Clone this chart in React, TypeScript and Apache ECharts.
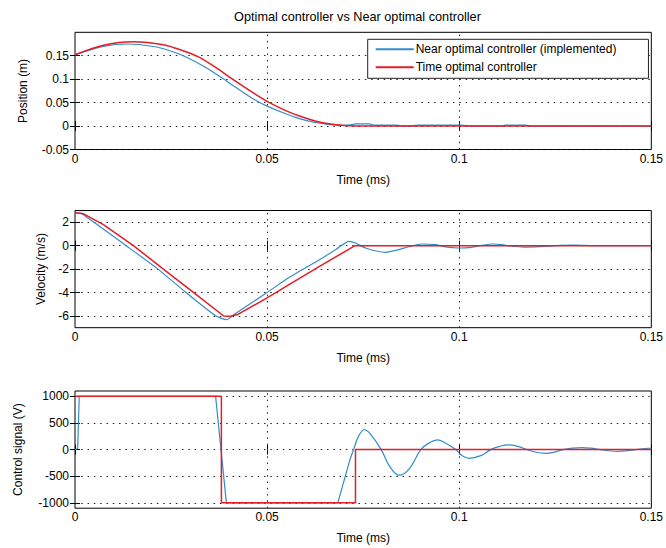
import React, { useEffect, useRef } from "react";
import * as echarts from "echarts";

// ---------- data ----------
const titleText = "Optimal controller vs Near optimal controller";
const legendNames = ["Near optimal controller (implemented)", "Time optimal controller"];
const xName = "Time (ms)";
const yNames = ["Position (m)", "Velocity (m/s)", "Control signal (V)"];

const timeTicks = [0, 0.05, 0.1, 0.15];
const posTicks = [-0.05, 0, 0.05, 0.1, 0.15];
const velTicks = [-6, -4, -2, 0, 2];
const ctrlTicks = [-1000, -500, 0, 500, 1000];

const posRange = [-0.05, 0.2];
const velRange = [-7, 3];
const ctrlRange = [-1100, 1100];
const timeRange = [0, 0.15];

// Position (m)
const posNear: [number, number][] = [
  [0, 0.152], [0.0074, 0.17], [0.0138, 0.175], [0.0204, 0.1697], [0.0245, 0.1612],
  [0.0286, 0.1485], [0.0336, 0.127], [0.0385, 0.1012], [0.0415, 0.0842], [0.0445, 0.068],
  [0.0471, 0.0545], [0.05, 0.0425], [0.054, 0.029], [0.0584, 0.016], [0.0625, 0.0078],
  [0.0665, 0.0032], [0.0696, 0.0015], [0.072, 0.003], [0.073, 0.0045], [0.0765, 0.0045],
  [0.078, 0.002], [0.0835, 0.002], [0.086, 0.0], [0.0895, 0.002], [0.1005, 0.002],
  [0.103, 0], [0.111, 0], [0.112, 0.002], [0.117, 0.002], [0.119, 0], [0.15, 0],
];
const posOpt: [number, number][] = [
  [0, 0.152], [0.0074, 0.1726], [0.0152, 0.18], [0.023, 0.1735], [0.028, 0.161],
  [0.032, 0.148], [0.0366, 0.125], [0.0411, 0.0995], [0.0458, 0.074], [0.0506, 0.05],
  [0.055, 0.0325], [0.0584, 0.0215], [0.0625, 0.011], [0.0665, 0.0042], [0.07, 0.001],
  [0.0729, 0], [0.15, 0],
];

// Velocity (m/s)
const velNear: [number, number][] = [
  [0, 2.8], [0.0012, 2.78], [0.0021, 2.65], [0.0133, 0], [0.0216, -2], [0.0289, -4],
  [0.0367, -6], [0.0395, -6.32], [0.0414, -5.87], [0.05, -4.0], [0.0558, -2.7],
  [0.0644, -1.05], [0.068, -0.3], [0.0713, 0.37], [0.073, 0.23], [0.0756, -0.2],
  [0.0808, -0.57], [0.0843, -0.34], [0.0869, -0.09], [0.0903, 0.14], [0.0938, 0.085],
  [0.0964, -0.11], [0.0998, -0.2], [0.1033, -0.14], [0.1059, 0.03], [0.1089, 0.14],
  [0.111, 0.09], [0.1136, -0.05], [0.117, -0.12], [0.121, -0.08], [0.125, 0.0],
  [0.13, 0.04], [0.135, 0], [0.15, 0],
];
const velOpt: [number, number][] = [
  [0, 2.8], [0.002, 2.75], [0.0074, 1.8], [0.0152, 0], [0.023, -2], [0.0309, -4],
  [0.0387, -6], [0.0405, -6.02], [0.0425, -5.85], [0.05, -4.45], [0.0558, -3.3],
  [0.0644, -1.62], [0.0729, 0], [0.15, 0],
];

// Control signal (V)
const ctrlNearSwitch: [number, number][] = [
  [0, 0], [0.0007, 20], [0.0011, 1000], [0.0366, 1000], [0.0394, -1000],
  [0.0684, -1000], [0.0716, -180],
];
const ctrlNearRing: [number, number][] = [
  [0.0716, -180], [0.0725, 0], [0.0738, 250], [0.0753, 373], [0.0768, 300], [0.0797, 0],
  [0.0818, -304], [0.0844, -481], [0.087, -360], [0.09, 0], [0.0922, 127], [0.0943, 184],
  [0.0965, 120], [0.0991, 0], [0.1008, -115], [0.1026, -165], [0.1056, -114], [0.1082, 0],
  [0.1103, 57], [0.1129, 89], [0.1153, 60], [0.1177, 0], [0.12, -50], [0.1224, -70],
  [0.1247, -48], [0.127, 0], [0.1295, 27], [0.132, 38], [0.1343, 26], [0.1367, 0],
  [0.139, -22], [0.1415, -32], [0.1438, -20], [0.146, 0], [0.1493, 25], [0.15, 25],
];
const ctrlOpt: [number, number][] = [
  [0, 1000], [0.0381, 1000], [0.0381, -1000], [0.073, -1000], [0.073, 0], [0.15, 0],
];

// ---------- styling ----------
const FONT = "Liberation Sans";
const BLUE = "#328cc8";
const RED = "#e41e26";
const gridTops = [32.3, 210.5, 391];
const gridHeight = 117.2;
const gridLeft = 75;
const gridWidth = 578;
const nameGaps = [46, 28, 51];

export default function App() {
  const ref = useRef<HTMLDivElement>(null);

  useEffect(() => {
    if (!ref.current) return;
    const chart = echarts.init(ref.current, null, { renderer: "svg" });

    const yRanges = [posRange, velRange, ctrlRange];
    const yTicks = [posTicks, velTicks, ctrlTicks];

    const grids = gridTops.map((top) => ({
      left: gridLeft,
      top,
      width: gridWidth,
      height: gridHeight,
      show: true,
      borderColor: "#000",
      borderWidth: 1,
      backgroundColor: "#fff",
      containLabel: false,
    }));

    const xAxes: any[] = [];
    const yAxes: any[] = [];
    for (let i = 0; i < 3; i++) {
      xAxes.push({
        gridIndex: i,
        type: "value",
        position: "bottom",
        min: timeRange[0],
        max: timeRange[1],
        interval: 0.05,
        axisLine: { show: false },
        axisTick: { show: true, inside: true, length: 5, lineStyle: { color: "#000" } },
        axisLabel: { color: "#000", fontSize: 12, fontFamily: FONT, margin: 3 },
        splitLine: { show: false },
        name: xName,
        nameLocation: "middle",
        nameGap: 24,
        nameTextStyle: { color: "#000", fontSize: 12, fontFamily: FONT },
      });
      xAxes.push({
        gridIndex: i,
        type: "value",
        position: "top",
        min: timeRange[0],
        max: timeRange[1],
        interval: 0.05,
        axisLine: { show: false },
        axisTick: { show: true, inside: true, length: 5, lineStyle: { color: "#000" } },
        axisLabel: { show: false },
        splitLine: { show: false },
      });
      yAxes.push({
        gridIndex: i,
        type: "value",
        position: "left",
        min: yRanges[i][0],
        max: yRanges[i][1],
        axisLine: { show: false },
        axisTick: {
          show: true, inside: true, length: 5, lineStyle: { color: "#000" },
          customValues: yTicks[i],
        },
        axisLabel: {
          color: "#000", fontSize: 12, fontFamily: FONT, margin: 6,
          customValues: yTicks[i],
          formatter: (v: number) => String(v),
        },
        splitLine: { show: false },
        name: yNames[i],
        nameLocation: "middle",
        nameGap: nameGaps[i],
        nameTextStyle: { color: "#000", fontSize: 12, fontFamily: FONT },
      });
      yAxes.push({
        gridIndex: i,
        type: "value",
        position: "right",
        min: yRanges[i][0],
        max: yRanges[i][1],
        axisLine: { show: false },
        axisTick: {
          show: true, inside: true, length: 5, lineStyle: { color: "#000" },
          customValues: yTicks[i],
        },
        axisLabel: { show: false },
        splitLine: { show: false },
      });
    }

    const gridMarks = (i: number) => ({
      silent: true,
      symbol: ["none", "none"],
      z: 1,
      label: { show: false },
      emphasis: { disabled: true },
      lineStyle: { color: "#222", type: [1.5, 4.8], width: 1 },
      data: [
        ...yTicks[i].map((v) => ({ yAxis: v })),
        ...timeTicks.slice(1, -1).map((v) => ({ xAxis: v })),
      ],
    });

    const lineSeries = (
      name: string, data: [number, number][], i: number, color: string,
      width: number, smooth: number | boolean, extra: any = {}
    ) => ({
      type: "line",
      name,
      data,
      xAxisIndex: 2 * i,
      yAxisIndex: 2 * i,
      symbol: "none",
      showSymbol: false,
      smooth,
      lineStyle: { color, width },
      itemStyle: { color },
      z: 3,
      ...extra,
    });

    const option: any = {
      animation: false,
      backgroundColor: "#fff",
      textStyle: { fontFamily: FONT },
      title: {
        text: titleText,
        left: 357.5,
        top: 10,
        padding: 0,
        textAlign: "center",
        textStyle: { color: "#000", fontSize: 12.7, fontWeight: "normal", fontFamily: FONT },
      },
      legend: {
        data: legendNames,
        orient: "vertical",
        left: 367.7,
        top: 39.3,
        padding: [4, 32, 5, 7],
        itemGap: 6,
        itemWidth: 38,
        itemHeight: 14,
        backgroundColor: "#fff",
        borderColor: "#222",
        borderWidth: 1,
        borderRadius: 0,
        selectedMode: false,
        itemStyle: { opacity: 0, borderWidth: 0 },
        textStyle: { color: "#000", fontSize: 12, fontFamily: FONT, padding: [0, 0, 0, -3] },
        z: 10,
      },
      grid: grids,
      xAxis: xAxes,
      yAxis: yAxes,
      series: [
        lineSeries(legendNames[0], posNear, 0, BLUE, 1.2, 0.35, { markLine: gridMarks(0) }),
        lineSeries(legendNames[1], posOpt, 0, RED, 1.5, 0.35),
        lineSeries("vel-near", velNear, 1, BLUE, 1.2, 0.2, { markLine: gridMarks(1) }),
        lineSeries("vel-opt", velOpt, 1, RED, 1.5, false),
        lineSeries("ctrl-near-switch", ctrlNearSwitch, 2, BLUE, 1.2, false, { markLine: gridMarks(2) }),
        lineSeries("ctrl-near-ring", ctrlNearRing, 2, BLUE, 1.2, 0.4),
        lineSeries("ctrl-opt", ctrlOpt, 2, RED, 1.5, false),
      ],
    };

    chart.setOption(option);
    return () => chart.dispose();
  }, []);

  return (
    <div
      ref={ref}
      style={{ position: "fixed", left: 0, top: 0, width: 666, height: 548, background: "#fff" }}
    />
  );
}
